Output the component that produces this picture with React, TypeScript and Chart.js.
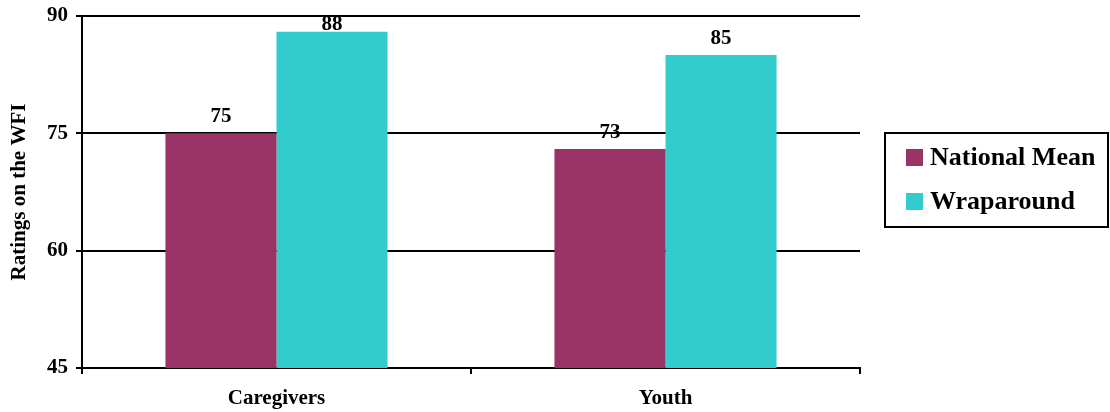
import React, { useEffect, useRef } from "react";
import { Chart, registerables } from "chart.js";

Chart.register(...registerables);

const categories = ["Caregivers", "Youth"];
const nationalMean = [75, 73];
const wraparound = [88, 85];
const seriesNames = ["National Mean", "Wraparound"];
const seriesColors = ["#993366", "#33CCCC"];
const yTicks = [45, 60, 75, 90];
const yTitle = "Ratings on the WFI";

const FONT = "'Liberation Serif', 'Times New Roman', serif";

const valueLabels = {
  id: "valueLabels",
  afterDatasetsDraw(chart: any) {
    const ctx = chart.ctx;
    ctx.save();
    ctx.font = `bold 21px ${FONT}`;
    ctx.fillStyle = "#000";
    ctx.textAlign = "center";
    ctx.textBaseline = "alphabetic";
    chart.data.datasets.forEach((ds: any, i: number) => {
      const meta = chart.getDatasetMeta(i);
      meta.data.forEach((bar: any, j: number) => {
        const y = Math.max(bar.y - 11, chart.chartArea.top + 14);
        ctx.fillText(String(ds.data[j]), bar.x, y);
      });
    });
    ctx.restore();
  },
};

const boxLegend = {
  id: "boxLegend",
  afterDraw(chart: any) {
    const ctx = chart.ctx;
    ctx.save();
    ctx.strokeStyle = "#000";
    ctx.lineWidth = 2;
    ctx.strokeRect(885, 133, 223, 94);
    ctx.font = `bold 26px ${FONT}`;
    ctx.textAlign = "left";
    ctx.textBaseline = "alphabetic";
    seriesNames.forEach((name, i) => {
      const top = 149 + i * 44;
      ctx.fillStyle = seriesColors[i];
      ctx.fillRect(906, top, 17, 17);
      ctx.fillStyle = "#000";
      ctx.fillText(name, 930, top + 16);
    });
    ctx.restore();
  },
};

export default function App() {
  const ref = useRef<HTMLCanvasElement>(null);
  useEffect(() => {
    if (!ref.current) return;
    const chart = new Chart(ref.current, {
      type: "bar",
      data: {
        labels: categories,
        datasets: [
          {
            label: seriesNames[0],
            data: nationalMean,
            backgroundColor: seriesColors[0],
            categoryPercentage: 0.571,
            barPercentage: 1,
          },
          {
            label: seriesNames[1],
            data: wraparound,
            backgroundColor: seriesColors[1],
            categoryPercentage: 0.571,
            barPercentage: 1,
          },
        ],
      },
      options: {
        animation: false,
        responsive: true,
        maintainAspectRatio: false,
        layout: { padding: { left: 0, right: 250, top: 16, bottom: 0 } },
        plugins: {
          legend: { display: false },
          tooltip: { enabled: false },
        },
        scales: {
          x: {
            offset: true,
            grid: {
              display: true,
              offset: true,
              drawOnChartArea: false,
              drawTicks: true,
              tickLength: 6,
              color: "#000",
              lineWidth: 2,
            },
            border: { display: true, color: "#000", width: 2 },
            ticks: {
              color: "#000",
              padding: 12,
              font: { family: FONT, size: 21, weight: "bold" },
            },
            afterFit(scale: any) {
              scale.height = 44;
              scale.paddingLeft = 0;
              scale.paddingRight = 0;
            },
          },
          y: {
            min: 45,
            max: 90,
            afterBuildTicks(scale: any) {
              scale.ticks = yTicks.map((v) => ({ value: v }));
            },
            grid: {
              display: true,
              drawTicks: true,
              tickLength: 6,
              color: "#000",
              lineWidth: 2,
            },
            border: { display: true, color: "#000", width: 2 },
            ticks: {
              color: "#000",
              padding: 8,
              font: { family: FONT, size: 21, weight: "bold" },
            },
            title: {
              display: true,
              text: yTitle,
              color: "#000",
              padding: { top: 7, bottom: 0 },
              font: { family: FONT, size: 21, weight: "bold" },
            },
            afterFit(scale: any) {
              scale.width = 82;
              scale.paddingTop = 0;
              scale.paddingBottom = 0;
            },
          },
        },
      },
      plugins: [valueLabels, boxLegend],
    });
    return () => chart.destroy();
  }, []);
  return (
    <div style={{ position: "absolute", left: 0, top: 0, width: 1110, height: 412, background: "#fff" }}>
      <canvas ref={ref} />
    </div>
  );
}
